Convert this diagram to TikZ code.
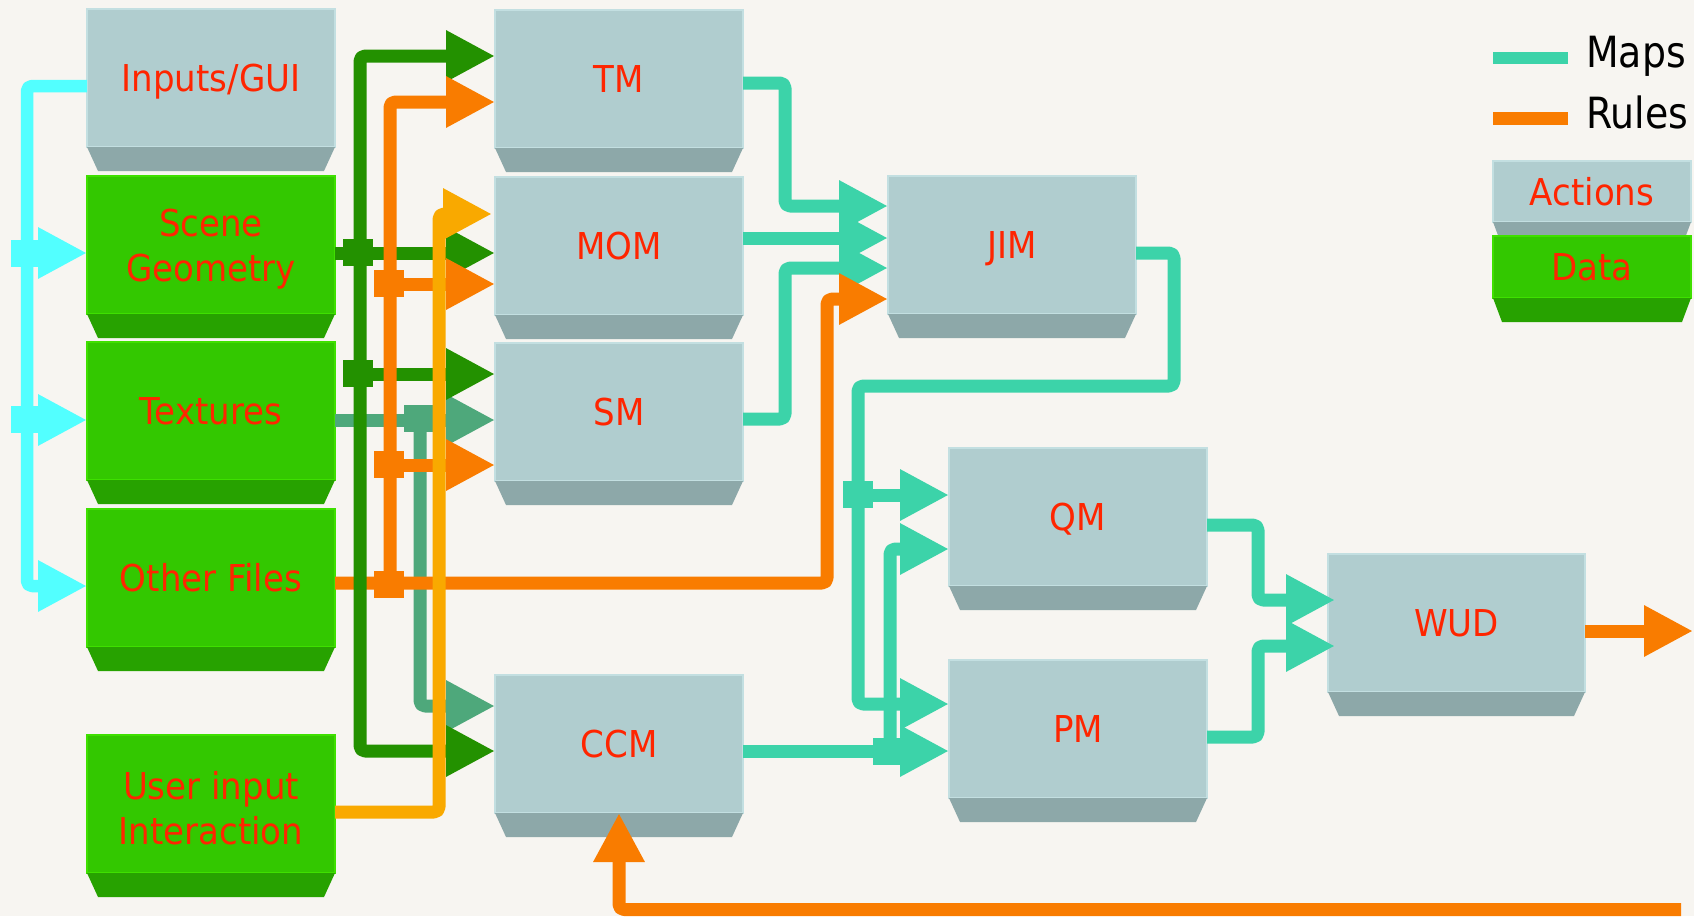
\documentclass[tikz,border=0pt]{standalone}
\usepackage{fontspec}
\usetikzlibrary{arrows.meta}
\newfontfamily\lblfont[FakeStretch=0.92]{DejaVu Sans}
\newfontfamily\legfont[FakeStretch=0.88]{DejaVu Sans}
\definecolor{bgc}{HTML}{F7F5F1}
\definecolor{actf}{HTML}{B0CDCF}
\definecolor{acte}{HTML}{C3DFE1}
\definecolor{actb}{HTML}{8DA8A9}
\definecolor{datf}{HTML}{33C800}
\definecolor{date}{HTML}{3FE000}
\definecolor{datb}{HTML}{27A200}
\definecolor{lblred}{HTML}{FF2500}
\definecolor{cyanc}{HTML}{52FFFF}
\definecolor{dgreen}{HTML}{239100}
\definecolor{orng}{HTML}{F97C00}
\definecolor{yell}{HTML}{F9A900}
\definecolor{muted}{HTML}{4EA87B}
\definecolor{tealc}{HTML}{3CD3A9}
\tikzset{
  face/.style={minimum width=248pt, minimum height=138pt, inner sep=0pt, outer sep=0pt, anchor=north, line width=1.5pt},
  act/.style={face, fill=actf, draw=acte},
  dat/.style={face, fill=datf, draw=date},
  lblone/.style={font=\lblfont\fontsize{37}{45}\selectfont, text=lblred, inner sep=0pt, text height=27pt, text depth=0pt},
  lbltwo/.style={font=\lblfont\fontsize{37}{45}\selectfont, text=lblred, inner sep=0pt, align=center, yshift=-4pt},
  legtext/.style={font=\legfont\fontsize{43}{50}\selectfont, text=black, inner sep=0pt, anchor=base west},
  conn/.style={line width=13pt, rounded corners=5pt, line join=round},
  arrowend/.style={-{Triangle[length=49pt,width=48pt]}},
  arrowstart/.style={{Triangle[length=49pt,width=48pt]}-},
  arrowboth/.style={{Triangle[length=49pt,width=48pt]}-{Triangle[length=49pt,width=48pt]}},
}
\newcommand\mybevel[4]{%
  \fill[#2] (#1.south west) -- (#1.south east) -- ([xshift=-#4,yshift=-#3]#1.south east) -- ([xshift=#4,yshift=-#3]#1.south west) -- cycle;}
\begin{document}
\begin{tikzpicture}[x=1pt,y=-1pt]
\fill[bgc] (0,0) rectangle (1694,916);
\useasboundingbox (0,0) rectangle (1694,916);

% ---------- boxes ----------
\node[act] (inputs) at (211,9) {};      \mybevel{inputs}{actb}{24pt}{11pt}
\node[dat] (scene) at (211,176) {};     \mybevel{scene}{datb}{24pt}{11pt}
\node[dat] (textures) at (211,342) {};  \mybevel{textures}{datb}{24pt}{11pt}
\node[dat] (other) at (211,509) {};     \mybevel{other}{datb}{24pt}{11pt}
\node[dat] (user) at (211,735) {};      \mybevel{user}{datb}{24pt}{11pt}
\node[act] (tm) at (619,10) {};         \mybevel{tm}{actb}{24pt}{11pt}
\node[act] (mom) at (619,177) {};       \mybevel{mom}{actb}{24pt}{11pt}
\node[act] (sm) at (619,343) {};        \mybevel{sm}{actb}{24pt}{11pt}
\node[act] (ccm) at (619,675) {};       \mybevel{ccm}{actb}{24pt}{11pt}
\node[act] (jim) at (1012,176) {};      \mybevel{jim}{actb}{24pt}{11pt}
\node[act, minimum width=258pt] (qm) at (1078,448) {};  \mybevel{qm}{actb}{24pt}{11pt}
\node[act, minimum width=258pt] (pm) at (1078,660) {};  \mybevel{pm}{actb}{24pt}{11pt}
\node[act, minimum width=257pt] (wud) at (1456.5,554) {}; \mybevel{wud}{actb}{24pt}{11pt}
\node[act, minimum width=198pt, minimum height=61pt] (lact) at (1592,161) {}; \mybevel{lact}{actb}{24pt}{9pt}
\node[dat, minimum width=198pt, minimum height=62pt] (ldat) at (1592,236) {}; \mybevel{ldat}{datb}{24pt}{9pt}

% ---------- labels ----------
\node[lblone] (inputsL) at (inputs.center) {Inputs/GUI};
\node[lbltwo] (sceneL) at (scene.center) {Scene\\Geometry};
\node[lblone] (texturesL) at (textures.center) {Textures};
\node[lblone] (otherL) at (other.center) {Other Files};
\node[lbltwo] (userL) at (user.center) {User input\\Interaction};
\node[lblone] (tmL) at (tm.center) {TM};
\node[lblone] (momL) at (mom.center) {MOM};
\node[lblone] (smL) at (sm.center) {SM};
\node[lblone] (ccmL) at (ccm.center) {CCM};
\node[lblone] (jimL) at (jim.center) {JIM};
\node[lblone] (qmL) at (qm.center) {QM};
\node[lblone] (pmL) at (pm.center) {PM};
\node[lblone] (wudL) at (wud.center) {WUD};
\node[lblone] (lactL) at (lact.center) {Actions};
\node[lblone] (ldatL) at (ldat.center) {Data};

% ---------- legend lines ----------
\coordinate (mapsA) at (1493,58);  \coordinate (mapsB) at (1568,58);
\coordinate (rulesA) at (1493,118); \coordinate (rulesB) at (1568,118);
\draw[tealc, line width=12.5pt] (mapsA) -- (mapsB);
\draw[orng, line width=13pt] (rulesA) -- (rulesB);
\node[legtext] (mapsT) at (1586,67) {Maps};
\node[legtext] (rulesT) at (1586,128) {Rules};

% ---------- muted green (Textures) ----------
\draw[conn, muted, arrowend] (textures.east |- 0,420) -- (sm.west |- 0,420);
\fill[muted] (404,405) rectangle (433,432);
\draw[conn, muted, arrowend] (420,420) -- (420,706) -- (ccm.west |- 0,706);

% ---------- teal (Maps) ----------
\draw[conn, tealc, arrowend] (tm.east |- 0,83) -- (785,83) -- (785,206) -- (jim.west |- 0,206);
\draw[conn, tealc, arrowend] (mom.east |- 0,238) -- (jim.west |- 0,238);
\draw[conn, tealc, arrowend] (sm.east |- 0,419) -- (785,419) -- (785,268) -- (jim.west |- 0,268);
\draw[conn, tealc, arrowend] (jim.east |- 0,253) -- (1174,253) -- (1174,386) -- (858,386) -- (858,704) -- (pm.west |- 0,704);
\fill[tealc] (843,481) rectangle (873,508);
\draw[conn, tealc, arrowend] (858,495) -- (qm.west |- 0,495);
\draw[conn, tealc, arrowend] (ccm.east |- 0,751) -- (pm.west |- 0,751);
\fill[tealc] (873,738) rectangle (900,765);
\draw[conn, tealc, arrowend] (890,751) -- (890,549) -- (qm.west |- 0,549);
\draw[conn, tealc, arrowend, shorten >=-7pt] (qm.east |- 0,525) -- (1258,525) -- (1258,600) -- (wud.west |- 0,600);
\draw[conn, tealc, arrowend, shorten >=-7pt] (pm.east |- 0,737) -- (1258,737) -- (1258,646) -- (wud.west |- 0,646);

% ---------- orange Other Files -> JIM ----------
\draw[conn, orng, arrowend] (other.east |- 0,583) -- (827,583) -- (827,299) -- (jim.west |- 0,299);

% ---------- dark green (Scene Geometry) ----------
\draw[conn, dgreen, arrowend] (scene.east |- 0,253) -- (mom.west |- 0,253);
\draw[conn, dgreen, arrowboth] (tm.west |- 0,56) -- (360,56) -- (360,751) -- (ccm.west |- 0,751);
\fill[dgreen] (343,239) rectangle (373,266);
\fill[dgreen] (343,360) rectangle (373,387);
\draw[conn, dgreen, arrowend] (360,374) -- (sm.west |- 0,374);

% ---------- orange trunk (Rules) ----------
\draw[conn, orng, arrowstart] (tm.west |- 0,102) -- (390,102) -- (390,590);
\fill[orng] (374,270) rectangle (404,297);
\fill[orng] (374,451) rectangle (404,478);
\fill[orng] (374,571) rectangle (404,598);
\draw[conn, orng, arrowend] (390,284) -- (mom.west |- 0,284);
\draw[conn, orng, arrowend] (390,465) -- (sm.west |- 0,465);

% ---------- yellow (User input) ----------
\draw[conn, yell, arrowend, shorten >=3pt] (user.east |- 0,812) -- (439,812) -- (439,214) -- (mom.west |- 0,214);

% ---------- cyan (Inputs/GUI) ----------
\draw[conn, line width=12.5pt, cyanc, arrowend] (inputs.west |- 0,86) -- (27,86) -- (27,586) -- (other.west |- 0,586);
\fill[cyanc] (11,240) rectangle (38,267);
\draw[conn, line width=12.5pt, cyanc, arrowend] (27,253) -- (scene.west |- 0,253);
\fill[cyanc] (11,406) rectangle (38,433);
\draw[conn, line width=12.5pt, cyanc, arrowend] (27,420) -- (textures.west |- 0,420);

% ---------- WUD output and feedback ----------
\coordinate (outR) at (1693,631);
\draw[conn, orng, arrowend] (wud.east |- 0,631) -- (outR);
\coordinate (fbR) at (1681,909.5);
\draw[conn, orng, arrowend] (fbR) -- (ccm.south |- fbR) -- (ccm.south);
\end{tikzpicture}
\end{document}
